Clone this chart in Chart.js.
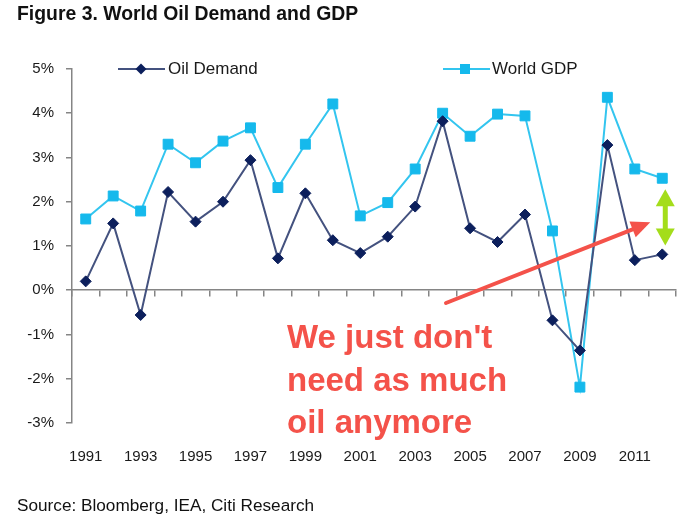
<!DOCTYPE html>
<html>
<head>
<meta charset="utf-8">
<script src="https://cdn.jsdelivr.net/npm/chart.js@4.4.1/dist/chart.umd.min.js"></script>
<style>
  html, body { margin: 0; padding: 0; background: #ffffff; }
  #wrap { width: 700px; height: 525px; }
</style>
</head>
<body>
<div id="wrap"><canvas id="c" width="700" height="525"></canvas></div>
<script>
// ---- Data ----
const years = ['1991','1992','1993','1994','1995','1996','1997','1998','1999','2000','2001',
               '2002','2003','2004','2005','2006','2007','2008','2009','2010','2011','2012'];
const oilDemand = [0.20, 1.51, -0.56, 2.22, 1.55, 2.00, 2.94, 0.72, 2.19, 1.13, 0.84,
                   1.21, 1.89, 3.82, 1.40, 1.09, 1.71, -0.68, -1.36, 3.28, 0.68, 0.81];
const worldGDP  = [1.61, 2.13, 1.79, 3.30, 2.88, 3.37, 3.67, 2.32, 3.30, 4.21, 1.68,
                   1.98, 2.74, 4.00, 3.48, 3.98, 3.94, 1.34, -2.19, 4.36, 2.74, 2.53];
const yTicks = [-3, -2, -1, 0, 1, 2, 3, 4, 5];
const seriesNames = ['Oil Demand', 'World GDP'];
const titleText = 'Figure 3. World Oil Demand and GDP';
const sourceText = 'Source: Bloomberg, IEA, Citi Research';
const noteLines = ["We just don't", 'need as much', 'oil anymore'];

const FONT = '"Liberation Sans", Arial, Helvetica, sans-serif';
const OIL_LINE = '#44527f', OIL_PT = '#0c1f5c';
const GDP_LINE = '#33c5ef', GDP_PT = '#15b9ec';
const AXIS = '#858585';
const RED = '#f4524a', GREEN = '#a4dd1b';

function diamond(ctx, x, y, r) {
  ctx.beginPath();
  ctx.moveTo(x - r, y); ctx.lineTo(x, y - r); ctx.lineTo(x + r, y); ctx.lineTo(x, y + r);
  ctx.closePath(); ctx.fill();
}
function square(ctx, x, y, s) {
  ctx.fillRect(x - s / 2, y - s / 2, s, s);
}

const overlay = {
  id: 'overlay',
  afterDatasetsDraw(chart) {
    const ctx = chart.ctx;
    const xs = chart.scales.x, ys = chart.scales.y;
    ctx.save();
    // Legend
    const ly = 69;
    ctx.font = '17px ' + FONT;
    ctx.textBaseline = 'middle';
    ctx.fillStyle = '#1a1a1a';
    ctx.lineWidth = 2;
    // Oil Demand
    ctx.strokeStyle = OIL_LINE;
    ctx.beginPath(); ctx.moveTo(118, ly); ctx.lineTo(165, ly); ctx.stroke();
    ctx.fillStyle = OIL_PT; diamond(ctx, 141, ly, 5.5);
    ctx.fillStyle = '#1a1a1a'; ctx.textAlign = 'left';
    ctx.fillText(seriesNames[0], 168, ly);
    // World GDP
    ctx.strokeStyle = GDP_LINE;
    ctx.beginPath(); ctx.moveTo(443, ly); ctx.lineTo(490, ly); ctx.stroke();
    ctx.fillStyle = GDP_PT; square(ctx, 465, ly, 10);
    ctx.fillStyle = '#1a1a1a';
    ctx.fillText(seriesNames[1], 492, ly);

    // Red annotation text
    ctx.fillStyle = RED;
    ctx.font = 'bold 33px ' + FONT;
    ctx.textBaseline = 'middle';
    noteLines.forEach((t, i) => ctx.fillText(t, 287, 339 + i * 42.5));

    // Green double arrow between the 2012 values
    const last = years.length - 1;
    const gx = xs.getPixelForValue(last) + 3;
    const gTop = ys.getPixelForValue(worldGDP[last]) + 11;
    const gBot = ys.getPixelForValue(oilDemand[last]) - 9;
    const hh = 17, hw = 9.5;
    ctx.fillStyle = GREEN; ctx.strokeStyle = GREEN; ctx.lineWidth = 5;
    ctx.beginPath(); ctx.moveTo(gx, gTop + hh - 2); ctx.lineTo(gx, gBot - hh + 2); ctx.stroke();
    ctx.beginPath(); ctx.moveTo(gx, gTop); ctx.lineTo(gx + hw, gTop + hh); ctx.lineTo(gx - hw, gTop + hh); ctx.closePath(); ctx.fill();
    ctx.beginPath(); ctx.moveTo(gx, gBot); ctx.lineTo(gx + hw, gBot - hh); ctx.lineTo(gx - hw, gBot - hh); ctx.closePath(); ctx.fill();

    // Red arrow pointing at the gap
    const x0 = 446, y0 = 303;
    const x1 = gx - 15, y1 = (gTop + gBot) / 2 + 5;
    const ang = Math.atan2(y1 - y0, x1 - x0);
    const al = 19, aw = 8.5;
    const bx = x1 - al * Math.cos(ang), by = y1 - al * Math.sin(ang);
    ctx.strokeStyle = RED; ctx.fillStyle = RED; ctx.lineWidth = 4; ctx.lineCap = 'round';
    ctx.beginPath(); ctx.moveTo(x0, y0); ctx.lineTo(bx, by); ctx.stroke();
    ctx.beginPath();
    ctx.moveTo(x1, y1);
    ctx.lineTo(bx + aw * Math.sin(ang), by - aw * Math.cos(ang));
    ctx.lineTo(bx - aw * Math.sin(ang), by + aw * Math.cos(ang));
    ctx.closePath(); ctx.fill();
    ctx.restore();
  }
};

new Chart(document.getElementById('c'), {
  type: 'line',
  data: {
    labels: years,
    datasets: [
      {
        label: seriesNames[0], data: oilDemand,
        borderColor: OIL_LINE, borderWidth: 2, tension: 0,
        pointStyle: 'rectRot', pointRadius: 5.5, pointBorderWidth: 1,
        pointBackgroundColor: OIL_PT, pointBorderColor: OIL_PT
      },
      {
        label: seriesNames[1], data: worldGDP,
        borderColor: GDP_LINE, borderWidth: 2, tension: 0,
        pointStyle: 'rect', pointRadius: 7, pointBorderWidth: 1,
        pointBackgroundColor: GDP_PT, pointBorderColor: GDP_PT
      }
    ]
  },
  options: {
    responsive: false,
    devicePixelRatio: 1,
    animation: false,
    events: [],
    layout: { padding: { left: 17, right: 24, top: 3, bottom: 0 } },
    plugins: {
      legend: { display: false },
      tooltip: { enabled: false },
      title: {
        display: true, text: titleText, align: 'start', color: '#111111',
        font: { family: FONT, size: 19.4, weight: 'bold' },
        padding: { top: 0, bottom: 42.7 }
      },
      subtitle: {
        display: true, text: sourceText, align: 'start', position: 'bottom', color: '#111111',
        font: { family: FONT, size: 17.2, weight: 'normal' },
        padding: { top: 0, bottom: 8.5 }
      }
    },
    scales: {
      x: {
        type: 'category', position: 'bottom', offset: true,
        grid: { display: false, drawTicks: false },
        border: { display: false },
        ticks: {
          autoSkip: false, maxRotation: 0, minRotation: 0, padding: 25,
          color: '#1a1a1a', font: { family: FONT, size: 15 },
          callback: function (v, i) { return i % 2 === 0 ? years[i] : ''; }
        },
        afterFit: function (s) { s.height = 72.9; }
      },
      x0: {
        type: 'category', position: { y: 0 }, offset: true,
        grid: { offset: true, drawOnChartArea: false, drawTicks: true, tickLength: 6, color: AXIS, lineWidth: 1.5 },
        border: { display: true, color: AXIS, width: 1.5 },
        ticks: { display: false, autoSkip: false }
      },
      y: {
        min: yTicks[0], max: yTicks[yTicks.length - 1],
        afterBuildTicks: function (s) { s.ticks = yTicks.map(v => ({ value: v })); },
        grid: { drawOnChartArea: false, drawTicks: true, tickLength: 6, color: AXIS, lineWidth: 1.5 },
        border: { display: true, color: AXIS, width: 1.5 },
        ticks: {
          padding: 12, color: '#1a1a1a', font: { family: FONT, size: 15 },
          callback: function (v) { return v + '%'; }
        },
        afterFit: function (s) { s.width = 55; }
      }
    }
  },
  plugins: [overlay]
});
</script>
</body>
</html>
